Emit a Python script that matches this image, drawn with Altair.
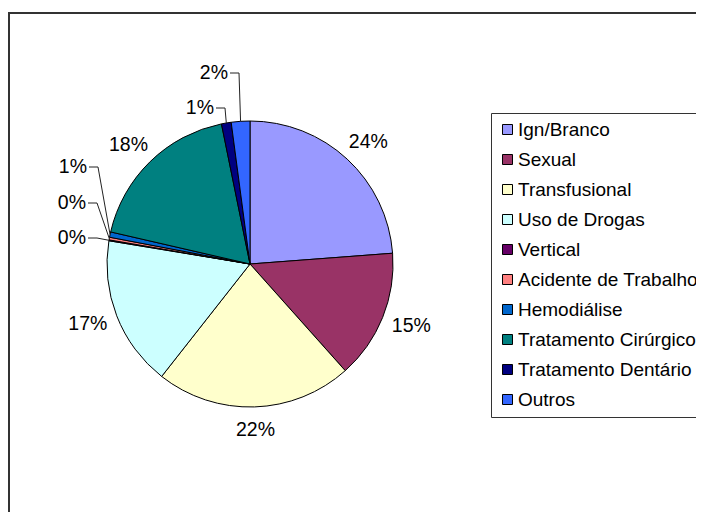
import math
import altair as alt
import pandas as pd

# ---- data (shares, in %) ----
categories = ["Ign/Branco", "Sexual", "Transfusional", "Uso de Drogas", "Vertical",
              "Acidente de Trabalho", "Hemodiálise", "Tratamento Cirúrgico",
              "Tratamento Dentário", "Outros"]
values = [23.8, 14.6, 22.2, 17.0, 0.1, 0.3, 0.6, 18.2, 1.1, 2.1]
colors = ["#9999FF", "#993366", "#FFFFCC", "#CCFFFF", "#660066",
          "#FF8080", "#0066CC", "#008080", "#000080", "#3366FF"]

# ---- layout / style ----
W, H = 688, 504
CX, CY, R = 242, 256, 143
LBL_RX, LBL_RY = 174, 166
FONT = "Liberation Sans"
FS = 19.5
LEG_FS = 19
# manually moved labels (right edge offset, vertical offset from pie centre)
CALLOUTS = {
    "Vertical": (-164, -26),
    "Acidente de Trabalho": (-164, -61),
    "Hemodiálise": (-163, -97),
    "Tratamento Dentário": (-36, -156),
    "Outros": (-22, -191),
}

total = sum(values)
rows = []
cum = 0.0
for i, (c, v) in enumerate(zip(categories, values)):
    mid = (cum + v / 2) / total * 2 * math.pi
    cum += v
    s, co = math.sin(mid), math.cos(mid)
    ax, ay = CX + R * s, CY - R * co
    if c in CALLOUTS:
        dx, dy = CALLOUTS[c]
        lx, ly = CX + dx, CY + dy
        kind = "callout"
    else:
        lx, ly = CX + LBL_RX * s, CY - LBL_RY * co
        kind = "normal"
    rows.append(dict(cat=c, value=v, idx=i, label=f"{round(v / total * 100)}%",
                     lx=lx, ly=ly, kind=kind, x0=lx + 2, xe=lx + 11, ax=ax, ay=ay))
df = pd.DataFrame(rows)

pie = alt.Chart(df).mark_arc(outerRadius=R, stroke="black", strokeWidth=1).encode(
    theta=alt.Theta("value:Q", stack=True),
    order=alt.Order("idx:Q"),
    x=alt.value(CX),
    y=alt.value(CY),
    color=alt.Color(
        "cat:N",
        scale=alt.Scale(domain=categories, range=colors),
        sort=categories,
        legend=alt.Legend(
            title=None, orient="none", legendX=483, legendY=105,
            symbolType="square", symbolSize=100, symbolStrokeColor="black",
            symbolStrokeWidth=1, symbolOpacity=1, labelFont=FONT, labelFontSize=LEG_FS,
            labelColor="black", labelOffset=1, rowPadding=10.0, padding=7,
            strokeColor="#333333", labelLimit=400,
        ),
    ),
)

normal = df[df.kind == "normal"]
callout = df[df.kind == "callout"]

txt_normal = alt.Chart(normal).mark_text(
    font=FONT, fontSize=FS, color="black", align="center", baseline="middle"
).encode(x=alt.X("lx:Q", scale=None), y=alt.Y("ly:Q", scale=None), text="label:N")

txt_callout = alt.Chart(callout).mark_text(
    font=FONT, fontSize=FS, color="black", align="right", baseline="middle"
).encode(x=alt.X("lx:Q", scale=None), y=alt.Y("ly:Q", scale=None), text="label:N")

seg1 = alt.Chart(callout).mark_rule(color="#222222", strokeWidth=1).encode(
    x=alt.X("x0:Q", scale=None), x2="xe:Q",
    y=alt.Y("ly:Q", scale=None), y2="ly:Q")
seg2 = alt.Chart(callout).mark_rule(color="#222222", strokeWidth=1).encode(
    x=alt.X("xe:Q", scale=None), x2="ax:Q",
    y=alt.Y("ly:Q", scale=None), y2="ay:Q")

frame_df = pd.DataFrame({"a": [0]})
top_line = alt.Chart(frame_df).mark_rule(color="#333333", strokeWidth=2).encode(
    x=alt.value(0), x2=alt.value(W + 10), y=alt.value(5))
left_line = alt.Chart(frame_df).mark_rule(color="#333333", strokeWidth=2).encode(
    x=alt.value(1), y=alt.value(4), y2=alt.value(H + 10))

chart = alt.layer(pie, seg1, seg2, txt_normal, txt_callout, top_line, left_line).properties(
    width=W, height=H, padding=0,
    autosize=alt.AutoSizeParams(type="none"),
).configure_view(stroke=None).resolve_scale(x="independent", y="independent")

chart.save("out.html", embed_options={"renderer": "svg", "actions": False})
